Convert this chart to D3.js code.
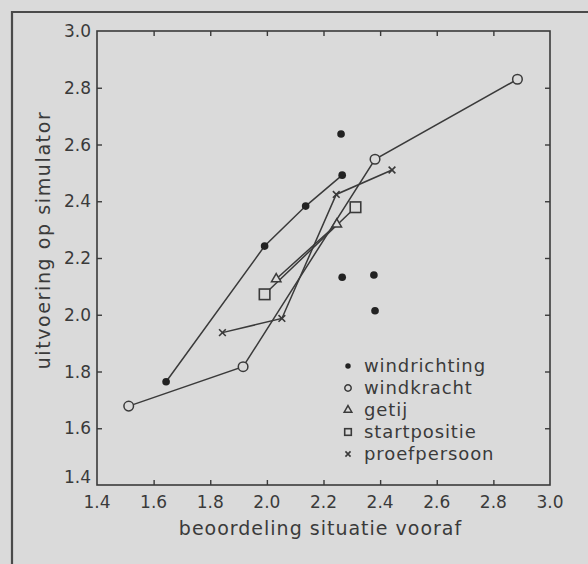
<!DOCTYPE html>
<html>
<head>
<meta charset="utf-8">
<script src="https://cdn.jsdelivr.net/npm/d3@7"></script>
<style>
  body { margin: 0; background: #dadada; }
  svg text { font-family: "DejaVu Sans", sans-serif; fill: #3a3a3a; }
</style>
</head>
<body>
<div id="chart"></div>
<script>
// size of the page
var width = 588, height = 564;

// tick values and labels
var xTicks = [1.4, 1.6, 1.8, 2.0, 2.2, 2.4, 2.6, 2.8, 3.0];
var yTicks = [1.4, 1.6, 1.8, 2.0, 2.2, 2.4, 2.6, 2.8, 3.0];

// series names, same order as legend
var seriesNames = ["windrichting", "windkracht", "getij", "startpositie", "proefpersoon"];

// connected points per series [x, y]
var windrichting = [[1.644, 1.764], [1.992, 2.242], [2.137, 2.383], [2.266, 2.492]];
var windrichtingLoose = [[2.262, 2.637], [2.266, 2.132], [2.378, 2.14], [2.382, 2.014]];
var windkracht = [[1.512, 1.678], [1.916, 1.817], [2.382, 2.548], [2.885, 2.83]];
var getij = [[2.033, 2.126], [2.247, 2.319]];
var startpositie = [[1.992, 2.072], [2.313, 2.379]];
var proefpersoon = [[1.843, 1.937], [2.053, 1.987], [2.245, 2.424], [2.442, 2.51]];

var ink = "#3a3a3a", bg = "#dadada";

var svg = d3.select("#chart")
            .append("svg")
            .attr("width", width)
            .attr("height", height);

svg.append("rect").attr("width", width).attr("height", height).attr("fill", bg);

// outer frame of the figure (top and left edge only visible)
svg.append("path")
   .attr("d", "M12," + height + "V12H" + width)
   .attr("fill", "none")
   .attr("stroke", "#4a4a4a")
   .attr("stroke-width", 2.2);

var x = d3.scaleLinear().domain([1.4, 3.0]).range([97, 550]);
var y = d3.scaleLinear().domain([1.4, 3.0]).range([485, 31]);

var fmt = d3.format(".1f");
var tickLen = 5;

//plot box
svg.append("rect")
   .attr("x", x(1.4)).attr("y", y(3.0))
   .attr("width", x(3.0) - x(1.4)).attr("height", y(1.4) - y(3.0))
   .attr("fill", "none").attr("stroke", ink).attr("stroke-width", 1.6);

// inward ticks on all four sides, via d3 axes
function noDomain(g){ g.select(".domain").remove(); g.selectAll(".tick line").attr("stroke", ink).attr("stroke-width", 1.4); }

svg.append("g").attr("transform", "translate(0," + y(1.4) + ")")
   .call(d3.axisBottom(x).tickValues(xTicks.slice(1, -1)).tickSizeInner(-tickLen).tickFormat(""))
   .call(noDomain);
svg.append("g").attr("transform", "translate(0," + y(3.0) + ")")
   .call(d3.axisTop(x).tickValues(xTicks.slice(1, -1)).tickSizeInner(-tickLen).tickFormat(""))
   .call(noDomain);
svg.append("g").attr("transform", "translate(" + x(1.4) + ",0)")
   .call(d3.axisLeft(y).tickValues(yTicks.slice(1, -1)).tickSizeInner(-tickLen).tickFormat(""))
   .call(noDomain);
svg.append("g").attr("transform", "translate(" + x(3.0) + ",0)")
   .call(d3.axisRight(y).tickValues(yTicks.slice(1, -1)).tickSizeInner(-tickLen).tickFormat(""))
   .call(noDomain);

// tick labels
svg.selectAll(null).data(xTicks).enter().append("text")
   .attr("x", d => x(d)).attr("y", y(1.4) + 23)
   .attr("text-anchor", "middle").attr("font-size", 17)
   .text(d => fmt(d));

svg.selectAll(null).data(yTicks).enter().append("text")
   .attr("x", x(1.4) - 6)
   //1.4 sits a bit higher so it does not collide with the x label
   .attr("y", d => d == 1.4 ? y(d) - 2 : y(d) + 6)
   .attr("text-anchor", "end").attr("font-size", 17)
   .text(d => fmt(d));

// axis titles
svg.append("text")
   .attr("x", (x(1.4) + x(3.0)) / 2 - 3).attr("y", 535)
   .attr("text-anchor", "middle").attr("font-size", 19)
   .attr("letter-spacing", 1)
   .text("beoordeling situatie vooraf");

svg.append("text")
   .attr("transform", "translate(50,240) rotate(-90)")
   .attr("text-anchor", "middle").attr("font-size", 19)
   .attr("letter-spacing", 1.6)
   .text("uitvoering op simulator");

// lines
var line = d3.line().x(d => x(d[0])).y(d => y(d[1]));
[windrichting, windkracht, getij, startpositie, proefpersoon].forEach(function(s){
  svg.append("path").attr("d", line(s))
     .attr("fill", "none").attr("stroke", ink).attr("stroke-width", 1.5);
});

// markers
function marker(g, type, size){
  if (type == 0) {
    g.append("circle").attr("r", size * 0.85).attr("fill", "#222");
  } else if (type == 1) {
    g.append("circle").attr("r", size).attr("fill", bg).attr("stroke", ink).attr("stroke-width", 1.5);
  } else if (type == 2) {
    g.append("path").attr("d", d3.symbol(d3.symbolTriangle, size * size * 2.2)())
     .attr("fill", bg).attr("stroke", ink).attr("stroke-width", 1.5);
  } else if (type == 3) {
    g.append("rect").attr("x", -size * 1.1).attr("y", -size * 1.1)
     .attr("width", size * 2.2).attr("height", size * 2.2)
     .attr("fill", bg).attr("stroke", ink).attr("stroke-width", 1.6);
  } else {
    var a = size * 0.8;
    g.append("path").attr("d", "M" + -a + "," + -a + "L" + a + "," + a + "M" + -a + "," + a + "L" + a + "," + -a)
     .attr("stroke", ink).attr("stroke-width", 1.6);
  }
}

var allSeries = [windrichting.concat(windrichtingLoose), windkracht, getij, startpositie, proefpersoon];
var sizes = [4.5, 4.8, 4.2, 4.8, 4.2];
allSeries.forEach(function(s, i){
  s.forEach(function(p){
    var g = svg.append("g").attr("transform", "translate(" + x(p[0]) + "," + y(p[1]) + ")");
    marker(g, i, sizes[i]);
  });
});

// legend
var legendSizes = [3.2, 3.2, 3.4, 3.0, 3.2];
seriesNames.forEach(function(name, i){
  var ly = 366 + i * 22;
  var g = svg.append("g").attr("transform", "translate(348," + ly + ")");
  marker(g, i, legendSizes[i]);
  svg.append("text").attr("x", 364).attr("y", ly + 6)
     .attr("font-size", 18).attr("letter-spacing", 0.9).text(name);
});
</script>
</body>
</html>
